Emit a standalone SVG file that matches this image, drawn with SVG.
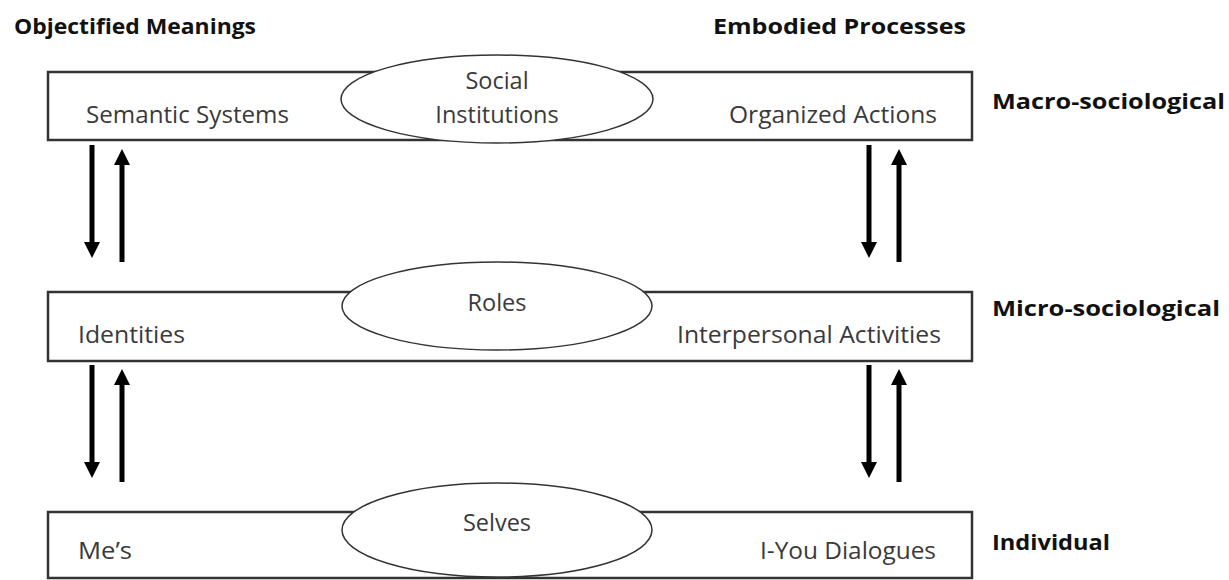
<svg xmlns="http://www.w3.org/2000/svg" width="1229" height="580" viewBox="0 0 1229 580">
<defs>
<style>
.box{fill:#fff;stroke:#333;stroke-width:2.5}
.ell{fill:#fff;stroke:#333;stroke-width:1.5}
.t{font-family:"Open Sans","Liberation Sans",sans-serif;font-size:23.5px;fill:#3a3a3a}
.h{font-family:"Open Sans","Liberation Sans",sans-serif;font-size:22px;font-weight:bold;fill:#111}
.c{text-anchor:middle}
.arr{stroke:#000;stroke-width:5;fill:none}
</style>
<marker id="ah" viewBox="0 0 10 10" refX="5" refY="5" markerWidth="16" markerHeight="16" markerUnits="userSpaceOnUse" orient="auto"><path d="M0,0 L10,5 L0,10 z" fill="#000"/></marker>
</defs>
<rect width="1229" height="580" fill="#fff"/>
<g id="headers">
<text class="h" x="14" y="34" textLength="242" lengthAdjust="spacingAndGlyphs">Objectified Meanings</text>
<text class="h" x="713" y="34" textLength="253" lengthAdjust="spacingAndGlyphs">Embodied Processes</text>
</g>
<g id="macro">
<rect class="box" x="48" y="72" width="924" height="68"/>
<ellipse class="ell" cx="497" cy="99" rx="156" ry="44"/>
<text class="t c" x="497" y="89">Social</text>
<text class="t c" x="497" y="123">Institutions</text>
<text class="t" x="86" y="123" textLength="203" lengthAdjust="spacingAndGlyphs">Semantic Systems</text>
<text class="t" x="729" y="123" textLength="208" lengthAdjust="spacingAndGlyphs">Organized Actions</text>
<text class="h" x="992" y="109" textLength="233" lengthAdjust="spacingAndGlyphs">Macro-sociological</text>
</g>
<g id="micro">
<rect class="box" x="48" y="292" width="924" height="69"/>
<ellipse class="ell" cx="497" cy="306" rx="155" ry="44"/>
<text class="t c" x="497" y="311">Roles</text>
<text class="t" x="78" y="343" textLength="107" lengthAdjust="spacingAndGlyphs">Identities</text>
<text class="t" x="677" y="343" textLength="264" lengthAdjust="spacingAndGlyphs">Interpersonal Activities</text>
<text class="h" x="992" y="316" textLength="228" lengthAdjust="spacingAndGlyphs">Micro-sociological</text>
</g>
<g id="individual">
<rect class="box" x="48" y="512" width="924" height="66"/>
<ellipse class="ell" cx="497" cy="530" rx="155" ry="47"/>
<text class="t c" x="497" y="531">Selves</text>
<text class="t" x="78" y="559" textLength="54" lengthAdjust="spacingAndGlyphs">Me’s</text>
<text class="t" x="760" y="559" textLength="176" lengthAdjust="spacingAndGlyphs">I-You Dialogues</text>
<text class="h" x="992" y="550" textLength="118" lengthAdjust="spacingAndGlyphs">Individual</text>
</g>
<g id="connectors">
<line class="arr" x1="92" y1="145" x2="92" y2="250" marker-end="url(#ah)"/>
<line class="arr" x1="122" y1="262" x2="122" y2="157" marker-end="url(#ah)"/>
<line class="arr" x1="869" y1="145" x2="869" y2="250" marker-end="url(#ah)"/>
<line class="arr" x1="899" y1="262" x2="899" y2="157" marker-end="url(#ah)"/>
<line class="arr" x1="92" y1="365" x2="92" y2="470" marker-end="url(#ah)"/>
<line class="arr" x1="122" y1="482" x2="122" y2="377" marker-end="url(#ah)"/>
<line class="arr" x1="869" y1="365" x2="869" y2="470" marker-end="url(#ah)"/>
<line class="arr" x1="899" y1="482" x2="899" y2="377" marker-end="url(#ah)"/>
</g>
</svg>
